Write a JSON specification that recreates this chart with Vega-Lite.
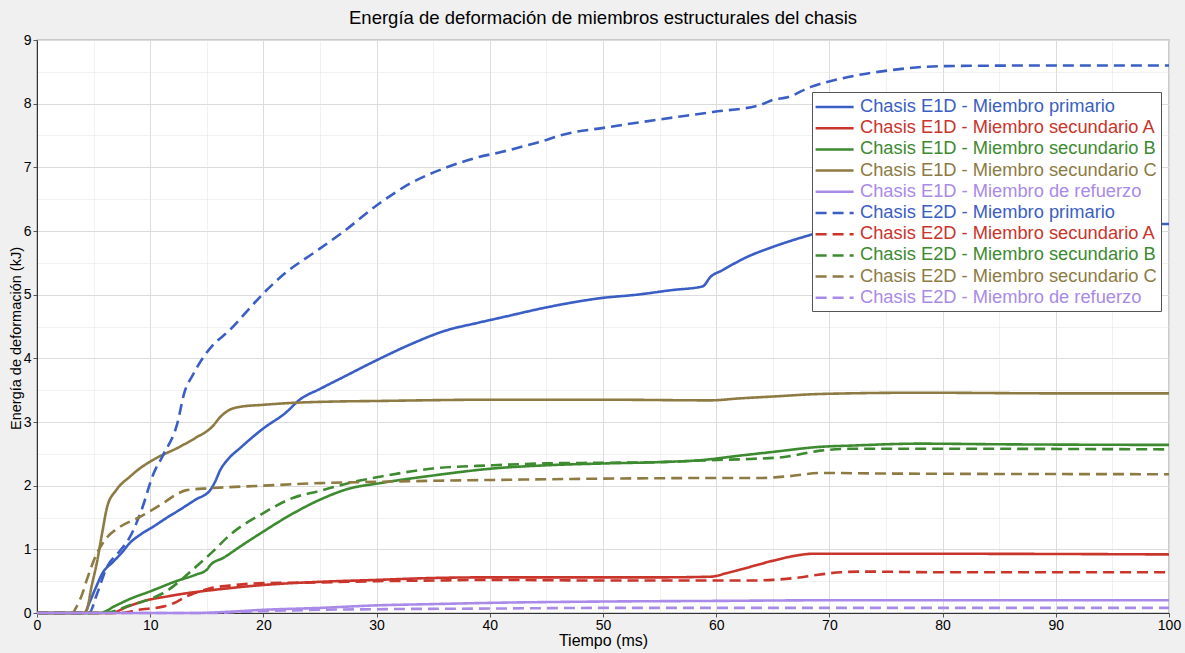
{
  "$schema": "https://vega.github.io/schema/vega-lite/v6.json",
  "width": 1132,
  "height": 573,
  "autosize": {"type": "none"},
  "padding": {"left": 37, "top": 40, "right": 16, "bottom": 40},
  "background": "#f0f0f0",
  "config": {
    "font": "Liberation Sans",
    "view": {"fill": "white", "stroke": "#555555", "strokeWidth": 1.2},
    "axis": {"labelColor": "#000000", "titleColor": "#000000", "labelFontSize": 14, "titleFontSize": 15, "titleFontWeight": "normal", "tickColor": "#555555", "domainColor": "#333333"}
  },
  "title": {"text": "Energía de deformación de miembros estructurales del chasis", "fontSize": 18.5, "fontWeight": "normal", "color": "#000000", "anchor": "middle", "offset": 6},
  "datasets": {
    "d": [
      {"s": "Chasis E1D - Miembro primario", "t": 0, "e": 0},
      {"s": "Chasis E1D - Miembro primario", "t": 4.2, "e": 0},
      {"s": "Chasis E1D - Miembro primario", "t": 4.6, "e": 0.15},
      {"s": "Chasis E1D - Miembro primario", "t": 5.2, "e": 0.4},
      {"s": "Chasis E1D - Miembro primario", "t": 5.8, "e": 0.63},
      {"s": "Chasis E1D - Miembro primario", "t": 6.7, "e": 0.8},
      {"s": "Chasis E1D - Miembro primario", "t": 7.5, "e": 0.95},
      {"s": "Chasis E1D - Miembro primario", "t": 8.2, "e": 1.1},
      {"s": "Chasis E1D - Miembro primario", "t": 9.2, "e": 1.24},
      {"s": "Chasis E1D - Miembro primario", "t": 10.3, "e": 1.36},
      {"s": "Chasis E1D - Miembro primario", "t": 11.5, "e": 1.5},
      {"s": "Chasis E1D - Miembro primario", "t": 12.6, "e": 1.62},
      {"s": "Chasis E1D - Miembro primario", "t": 14, "e": 1.78},
      {"s": "Chasis E1D - Miembro primario", "t": 15.3, "e": 1.93},
      {"s": "Chasis E1D - Miembro primario", "t": 15.7, "e": 2.05},
      {"s": "Chasis E1D - Miembro primario", "t": 16.2, "e": 2.25},
      {"s": "Chasis E1D - Miembro primario", "t": 16.8, "e": 2.4},
      {"s": "Chasis E1D - Miembro primario", "t": 18, "e": 2.6},
      {"s": "Chasis E1D - Miembro primario", "t": 20, "e": 2.9},
      {"s": "Chasis E1D - Miembro primario", "t": 22, "e": 3.15},
      {"s": "Chasis E1D - Miembro primario", "t": 23.2, "e": 3.35},
      {"s": "Chasis E1D - Miembro primario", "t": 25, "e": 3.52},
      {"s": "Chasis E1D - Miembro primario", "t": 27, "e": 3.7},
      {"s": "Chasis E1D - Miembro primario", "t": 30, "e": 3.97},
      {"s": "Chasis E1D - Miembro primario", "t": 33, "e": 4.22},
      {"s": "Chasis E1D - Miembro primario", "t": 36, "e": 4.43},
      {"s": "Chasis E1D - Miembro primario", "t": 39, "e": 4.56},
      {"s": "Chasis E1D - Miembro primario", "t": 41, "e": 4.64},
      {"s": "Chasis E1D - Miembro primario", "t": 45, "e": 4.8},
      {"s": "Chasis E1D - Miembro primario", "t": 50, "e": 4.95},
      {"s": "Chasis E1D - Miembro primario", "t": 53, "e": 5.0},
      {"s": "Chasis E1D - Miembro primario", "t": 56, "e": 5.07},
      {"s": "Chasis E1D - Miembro primario", "t": 58.8, "e": 5.13},
      {"s": "Chasis E1D - Miembro primario", "t": 59.5, "e": 5.28},
      {"s": "Chasis E1D - Miembro primario", "t": 60.5, "e": 5.38},
      {"s": "Chasis E1D - Miembro primario", "t": 62.7, "e": 5.59},
      {"s": "Chasis E1D - Miembro primario", "t": 65, "e": 5.75},
      {"s": "Chasis E1D - Miembro primario", "t": 67.4, "e": 5.89},
      {"s": "Chasis E1D - Miembro primario", "t": 69, "e": 5.97},
      {"s": "Chasis E1D - Miembro primario", "t": 72, "e": 6.03},
      {"s": "Chasis E1D - Miembro primario", "t": 76, "e": 6.07},
      {"s": "Chasis E1D - Miembro primario", "t": 80, "e": 6.09},
      {"s": "Chasis E1D - Miembro primario", "t": 90, "e": 6.1},
      {"s": "Chasis E1D - Miembro primario", "t": 100, "e": 6.11},

      {"s": "Chasis E1D - Miembro secundario A", "t": 0, "e": 0},
      {"s": "Chasis E1D - Miembro secundario A", "t": 6.5, "e": 0},
      {"s": "Chasis E1D - Miembro secundario A", "t": 8, "e": 0.1},
      {"s": "Chasis E1D - Miembro secundario A", "t": 9.7, "e": 0.2},
      {"s": "Chasis E1D - Miembro secundario A", "t": 11.5, "e": 0.26},
      {"s": "Chasis E1D - Miembro secundario A", "t": 13.2, "e": 0.31},
      {"s": "Chasis E1D - Miembro secundario A", "t": 15, "e": 0.35},
      {"s": "Chasis E1D - Miembro secundario A", "t": 17, "e": 0.39},
      {"s": "Chasis E1D - Miembro secundario A", "t": 20, "e": 0.44},
      {"s": "Chasis E1D - Miembro secundario A", "t": 25, "e": 0.49},
      {"s": "Chasis E1D - Miembro secundario A", "t": 30, "e": 0.52},
      {"s": "Chasis E1D - Miembro secundario A", "t": 35, "e": 0.55},
      {"s": "Chasis E1D - Miembro secundario A", "t": 40, "e": 0.56},
      {"s": "Chasis E1D - Miembro secundario A", "t": 50, "e": 0.56},
      {"s": "Chasis E1D - Miembro secundario A", "t": 55, "e": 0.56},
      {"s": "Chasis E1D - Miembro secundario A", "t": 59.5, "e": 0.57},
      {"s": "Chasis E1D - Miembro secundario A", "t": 61, "e": 0.63},
      {"s": "Chasis E1D - Miembro secundario A", "t": 62.5, "e": 0.7},
      {"s": "Chasis E1D - Miembro secundario A", "t": 65, "e": 0.82},
      {"s": "Chasis E1D - Miembro secundario A", "t": 67, "e": 0.9},
      {"s": "Chasis E1D - Miembro secundario A", "t": 68.5, "e": 0.93},
      {"s": "Chasis E1D - Miembro secundario A", "t": 75, "e": 0.93},
      {"s": "Chasis E1D - Miembro secundario A", "t": 80, "e": 0.93},
      {"s": "Chasis E1D - Miembro secundario A", "t": 100, "e": 0.92},

      {"s": "Chasis E1D - Miembro secundario B", "t": 0, "e": 0},
      {"s": "Chasis E1D - Miembro secundario B", "t": 5.5, "e": 0},
      {"s": "Chasis E1D - Miembro secundario B", "t": 7, "e": 0.12},
      {"s": "Chasis E1D - Miembro secundario B", "t": 8.2, "e": 0.22},
      {"s": "Chasis E1D - Miembro secundario B", "t": 10, "e": 0.34},
      {"s": "Chasis E1D - Miembro secundario B", "t": 12.3, "e": 0.5},
      {"s": "Chasis E1D - Miembro secundario B", "t": 14, "e": 0.6},
      {"s": "Chasis E1D - Miembro secundario B", "t": 15, "e": 0.68},
      {"s": "Chasis E1D - Miembro secundario B", "t": 15.3, "e": 0.75},
      {"s": "Chasis E1D - Miembro secundario B", "t": 16.5, "e": 0.87},
      {"s": "Chasis E1D - Miembro secundario B", "t": 18, "e": 1.05},
      {"s": "Chasis E1D - Miembro secundario B", "t": 20, "e": 1.28},
      {"s": "Chasis E1D - Miembro secundario B", "t": 22, "e": 1.5},
      {"s": "Chasis E1D - Miembro secundario B", "t": 25, "e": 1.78},
      {"s": "Chasis E1D - Miembro secundario B", "t": 27.5, "e": 1.95},
      {"s": "Chasis E1D - Miembro secundario B", "t": 30.3, "e": 2.04},
      {"s": "Chasis E1D - Miembro secundario B", "t": 35, "e": 2.16},
      {"s": "Chasis E1D - Miembro secundario B", "t": 40.3, "e": 2.27},
      {"s": "Chasis E1D - Miembro secundario B", "t": 45, "e": 2.32},
      {"s": "Chasis E1D - Miembro secundario B", "t": 50.4, "e": 2.35},
      {"s": "Chasis E1D - Miembro secundario B", "t": 55, "e": 2.37},
      {"s": "Chasis E1D - Miembro secundario B", "t": 58.6, "e": 2.4},
      {"s": "Chasis E1D - Miembro secundario B", "t": 62, "e": 2.47},
      {"s": "Chasis E1D - Miembro secundario B", "t": 65, "e": 2.53},
      {"s": "Chasis E1D - Miembro secundario B", "t": 69.2, "e": 2.61},
      {"s": "Chasis E1D - Miembro secundario B", "t": 72, "e": 2.63},
      {"s": "Chasis E1D - Miembro secundario B", "t": 78, "e": 2.66},
      {"s": "Chasis E1D - Miembro secundario B", "t": 85, "e": 2.65},
      {"s": "Chasis E1D - Miembro secundario B", "t": 100, "e": 2.64},

      {"s": "Chasis E1D - Miembro secundario C", "t": 0, "e": 0},
      {"s": "Chasis E1D - Miembro secundario C", "t": 4.1, "e": 0},
      {"s": "Chasis E1D - Miembro secundario C", "t": 4.4, "e": 0.05},
      {"s": "Chasis E1D - Miembro secundario C", "t": 4.8, "e": 0.4},
      {"s": "Chasis E1D - Miembro secundario C", "t": 5.3, "e": 0.8},
      {"s": "Chasis E1D - Miembro secundario C", "t": 5.8, "e": 1.3},
      {"s": "Chasis E1D - Miembro secundario C", "t": 6.2, "e": 1.67},
      {"s": "Chasis E1D - Miembro secundario C", "t": 7, "e": 1.93},
      {"s": "Chasis E1D - Miembro secundario C", "t": 8.2, "e": 2.14},
      {"s": "Chasis E1D - Miembro secundario C", "t": 9, "e": 2.26},
      {"s": "Chasis E1D - Miembro secundario C", "t": 10.2, "e": 2.4},
      {"s": "Chasis E1D - Miembro secundario C", "t": 12.6, "e": 2.61},
      {"s": "Chasis E1D - Miembro secundario C", "t": 14, "e": 2.75},
      {"s": "Chasis E1D - Miembro secundario C", "t": 15.5, "e": 2.93},
      {"s": "Chasis E1D - Miembro secundario C", "t": 16.2, "e": 3.08},
      {"s": "Chasis E1D - Miembro secundario C", "t": 17, "e": 3.19},
      {"s": "Chasis E1D - Miembro secundario C", "t": 18, "e": 3.24},
      {"s": "Chasis E1D - Miembro secundario C", "t": 20, "e": 3.27},
      {"s": "Chasis E1D - Miembro secundario C", "t": 22.5, "e": 3.3},
      {"s": "Chasis E1D - Miembro secundario C", "t": 25.9, "e": 3.32},
      {"s": "Chasis E1D - Miembro secundario C", "t": 30, "e": 3.33},
      {"s": "Chasis E1D - Miembro secundario C", "t": 40, "e": 3.35},
      {"s": "Chasis E1D - Miembro secundario C", "t": 50, "e": 3.35},
      {"s": "Chasis E1D - Miembro secundario C", "t": 59.5, "e": 3.34},
      {"s": "Chasis E1D - Miembro secundario C", "t": 62, "e": 3.37},
      {"s": "Chasis E1D - Miembro secundario C", "t": 65, "e": 3.4},
      {"s": "Chasis E1D - Miembro secundario C", "t": 69.2, "e": 3.44},
      {"s": "Chasis E1D - Miembro secundario C", "t": 78, "e": 3.46},
      {"s": "Chasis E1D - Miembro secundario C", "t": 90, "e": 3.45},
      {"s": "Chasis E1D - Miembro secundario C", "t": 100, "e": 3.45},

      {"s": "Chasis E1D - Miembro de refuerzo", "t": 0, "e": 0},
      {"s": "Chasis E1D - Miembro de refuerzo", "t": 14, "e": 0},
      {"s": "Chasis E1D - Miembro de refuerzo", "t": 17, "e": 0.02},
      {"s": "Chasis E1D - Miembro de refuerzo", "t": 20, "e": 0.05},
      {"s": "Chasis E1D - Miembro de refuerzo", "t": 25, "e": 0.08},
      {"s": "Chasis E1D - Miembro de refuerzo", "t": 30, "e": 0.12},
      {"s": "Chasis E1D - Miembro de refuerzo", "t": 35, "e": 0.14},
      {"s": "Chasis E1D - Miembro de refuerzo", "t": 40.3, "e": 0.16},
      {"s": "Chasis E1D - Miembro de refuerzo", "t": 50, "e": 0.18},
      {"s": "Chasis E1D - Miembro de refuerzo", "t": 60, "e": 0.19},
      {"s": "Chasis E1D - Miembro de refuerzo", "t": 70, "e": 0.2},
      {"s": "Chasis E1D - Miembro de refuerzo", "t": 100, "e": 0.2},

      {"s": "Chasis E2D - Miembro primario", "t": 0, "e": 0},
      {"s": "Chasis E2D - Miembro primario", "t": 4.6, "e": 0},
      {"s": "Chasis E2D - Miembro primario", "t": 5.3, "e": 0.3},
      {"s": "Chasis E2D - Miembro primario", "t": 6.2, "e": 0.73},
      {"s": "Chasis E2D - Miembro primario", "t": 7.2, "e": 0.95},
      {"s": "Chasis E2D - Miembro primario", "t": 8.2, "e": 1.19},
      {"s": "Chasis E2D - Miembro primario", "t": 9.2, "e": 1.6},
      {"s": "Chasis E2D - Miembro primario", "t": 10.3, "e": 2.19},
      {"s": "Chasis E2D - Miembro primario", "t": 11.2, "e": 2.5},
      {"s": "Chasis E2D - Miembro primario", "t": 12.4, "e": 2.98},
      {"s": "Chasis E2D - Miembro primario", "t": 13, "e": 3.45},
      {"s": "Chasis E2D - Miembro primario", "t": 13.8, "e": 3.75},
      {"s": "Chasis E2D - Miembro primario", "t": 14.7, "e": 4.02},
      {"s": "Chasis E2D - Miembro primario", "t": 15.5, "e": 4.2},
      {"s": "Chasis E2D - Miembro primario", "t": 17, "e": 4.44},
      {"s": "Chasis E2D - Miembro primario", "t": 18.5, "e": 4.73},
      {"s": "Chasis E2D - Miembro primario", "t": 20, "e": 5.02},
      {"s": "Chasis E2D - Miembro primario", "t": 22, "e": 5.35},
      {"s": "Chasis E2D - Miembro primario", "t": 24.4, "e": 5.65},
      {"s": "Chasis E2D - Miembro primario", "t": 27, "e": 5.98},
      {"s": "Chasis E2D - Miembro primario", "t": 30.3, "e": 6.44},
      {"s": "Chasis E2D - Miembro primario", "t": 33, "e": 6.75},
      {"s": "Chasis E2D - Miembro primario", "t": 36.2, "e": 7.0},
      {"s": "Chasis E2D - Miembro primario", "t": 39, "e": 7.16},
      {"s": "Chasis E2D - Miembro primario", "t": 41, "e": 7.24},
      {"s": "Chasis E2D - Miembro primario", "t": 44, "e": 7.38},
      {"s": "Chasis E2D - Miembro primario", "t": 45, "e": 7.43},
      {"s": "Chasis E2D - Miembro primario", "t": 46.2, "e": 7.5},
      {"s": "Chasis E2D - Miembro primario", "t": 50.4, "e": 7.63},
      {"s": "Chasis E2D - Miembro primario", "t": 55.3, "e": 7.76},
      {"s": "Chasis E2D - Miembro primario", "t": 59.7, "e": 7.87},
      {"s": "Chasis E2D - Miembro primario", "t": 63.9, "e": 7.98},
      {"s": "Chasis E2D - Miembro primario", "t": 65, "e": 8.06},
      {"s": "Chasis E2D - Miembro primario", "t": 66.3, "e": 8.1},
      {"s": "Chasis E2D - Miembro primario", "t": 68.3, "e": 8.26},
      {"s": "Chasis E2D - Miembro primario", "t": 71.2, "e": 8.4},
      {"s": "Chasis E2D - Miembro primario", "t": 75.6, "e": 8.53},
      {"s": "Chasis E2D - Miembro primario", "t": 80, "e": 8.59},
      {"s": "Chasis E2D - Miembro primario", "t": 90, "e": 8.6},
      {"s": "Chasis E2D - Miembro primario", "t": 100, "e": 8.6},

      {"s": "Chasis E2D - Miembro secundario A", "t": 0, "e": 0},
      {"s": "Chasis E2D - Miembro secundario A", "t": 7.3, "e": 0},
      {"s": "Chasis E2D - Miembro secundario A", "t": 9, "e": 0.05},
      {"s": "Chasis E2D - Miembro secundario A", "t": 11.1, "e": 0.1},
      {"s": "Chasis E2D - Miembro secundario A", "t": 12.3, "e": 0.17},
      {"s": "Chasis E2D - Miembro secundario A", "t": 13.2, "e": 0.26},
      {"s": "Chasis E2D - Miembro secundario A", "t": 14.2, "e": 0.33},
      {"s": "Chasis E2D - Miembro secundario A", "t": 15.3, "e": 0.39},
      {"s": "Chasis E2D - Miembro secundario A", "t": 17, "e": 0.43},
      {"s": "Chasis E2D - Miembro secundario A", "t": 20, "e": 0.47},
      {"s": "Chasis E2D - Miembro secundario A", "t": 25, "e": 0.48},
      {"s": "Chasis E2D - Miembro secundario A", "t": 30, "e": 0.5},
      {"s": "Chasis E2D - Miembro secundario A", "t": 35, "e": 0.51},
      {"s": "Chasis E2D - Miembro secundario A", "t": 40, "e": 0.52},
      {"s": "Chasis E2D - Miembro secundario A", "t": 50, "e": 0.51},
      {"s": "Chasis E2D - Miembro secundario A", "t": 60, "e": 0.51},
      {"s": "Chasis E2D - Miembro secundario A", "t": 63, "e": 0.51},
      {"s": "Chasis E2D - Miembro secundario A", "t": 65, "e": 0.52},
      {"s": "Chasis E2D - Miembro secundario A", "t": 67, "e": 0.55},
      {"s": "Chasis E2D - Miembro secundario A", "t": 69, "e": 0.6},
      {"s": "Chasis E2D - Miembro secundario A", "t": 71, "e": 0.64},
      {"s": "Chasis E2D - Miembro secundario A", "t": 73, "e": 0.65},
      {"s": "Chasis E2D - Miembro secundario A", "t": 80, "e": 0.64},
      {"s": "Chasis E2D - Miembro secundario A", "t": 100, "e": 0.64},

      {"s": "Chasis E2D - Miembro secundario B", "t": 0, "e": 0},
      {"s": "Chasis E2D - Miembro secundario B", "t": 6, "e": 0},
      {"s": "Chasis E2D - Miembro secundario B", "t": 8.2, "e": 0.12},
      {"s": "Chasis E2D - Miembro secundario B", "t": 10, "e": 0.22},
      {"s": "Chasis E2D - Miembro secundario B", "t": 11.5, "e": 0.35},
      {"s": "Chasis E2D - Miembro secundario B", "t": 12.4, "e": 0.47},
      {"s": "Chasis E2D - Miembro secundario B", "t": 14, "e": 0.72},
      {"s": "Chasis E2D - Miembro secundario B", "t": 15.5, "e": 0.96},
      {"s": "Chasis E2D - Miembro secundario B", "t": 17, "e": 1.22},
      {"s": "Chasis E2D - Miembro secundario B", "t": 20, "e": 1.57},
      {"s": "Chasis E2D - Miembro secundario B", "t": 22.5, "e": 1.8},
      {"s": "Chasis E2D - Miembro secundario B", "t": 25, "e": 1.92},
      {"s": "Chasis E2D - Miembro secundario B", "t": 28, "e": 2.06},
      {"s": "Chasis E2D - Miembro secundario B", "t": 30.3, "e": 2.14},
      {"s": "Chasis E2D - Miembro secundario B", "t": 35, "e": 2.27},
      {"s": "Chasis E2D - Miembro secundario B", "t": 40.3, "e": 2.32},
      {"s": "Chasis E2D - Miembro secundario B", "t": 45, "e": 2.35},
      {"s": "Chasis E2D - Miembro secundario B", "t": 50.4, "e": 2.36},
      {"s": "Chasis E2D - Miembro secundario B", "t": 55, "e": 2.37},
      {"s": "Chasis E2D - Miembro secundario B", "t": 59.5, "e": 2.4},
      {"s": "Chasis E2D - Miembro secundario B", "t": 63, "e": 2.42},
      {"s": "Chasis E2D - Miembro secundario B", "t": 66, "e": 2.45},
      {"s": "Chasis E2D - Miembro secundario B", "t": 69.2, "e": 2.55},
      {"s": "Chasis E2D - Miembro secundario B", "t": 72, "e": 2.58},
      {"s": "Chasis E2D - Miembro secundario B", "t": 80, "e": 2.58},
      {"s": "Chasis E2D - Miembro secundario B", "t": 100, "e": 2.57},

      {"s": "Chasis E2D - Miembro secundario C", "t": 0, "e": 0},
      {"s": "Chasis E2D - Miembro secundario C", "t": 3.1, "e": 0},
      {"s": "Chasis E2D - Miembro secundario C", "t": 3.5, "e": 0.1},
      {"s": "Chasis E2D - Miembro secundario C", "t": 4, "e": 0.3},
      {"s": "Chasis E2D - Miembro secundario C", "t": 4.4, "e": 0.52},
      {"s": "Chasis E2D - Miembro secundario C", "t": 5.3, "e": 0.94},
      {"s": "Chasis E2D - Miembro secundario C", "t": 6.2, "e": 1.19},
      {"s": "Chasis E2D - Miembro secundario C", "t": 7.3, "e": 1.35},
      {"s": "Chasis E2D - Miembro secundario C", "t": 9.1, "e": 1.51},
      {"s": "Chasis E2D - Miembro secundario C", "t": 11.1, "e": 1.72},
      {"s": "Chasis E2D - Miembro secundario C", "t": 12.2, "e": 1.85},
      {"s": "Chasis E2D - Miembro secundario C", "t": 13.2, "e": 1.93},
      {"s": "Chasis E2D - Miembro secundario C", "t": 15.3, "e": 1.96},
      {"s": "Chasis E2D - Miembro secundario C", "t": 20, "e": 2.0},
      {"s": "Chasis E2D - Miembro secundario C", "t": 25, "e": 2.04},
      {"s": "Chasis E2D - Miembro secundario C", "t": 30, "e": 2.06},
      {"s": "Chasis E2D - Miembro secundario C", "t": 40.3, "e": 2.09},
      {"s": "Chasis E2D - Miembro secundario C", "t": 50, "e": 2.11},
      {"s": "Chasis E2D - Miembro secundario C", "t": 59.7, "e": 2.12},
      {"s": "Chasis E2D - Miembro secundario C", "t": 64, "e": 2.12},
      {"s": "Chasis E2D - Miembro secundario C", "t": 66.5, "e": 2.15},
      {"s": "Chasis E2D - Miembro secundario C", "t": 69.2, "e": 2.2},
      {"s": "Chasis E2D - Miembro secundario C", "t": 75, "e": 2.19},
      {"s": "Chasis E2D - Miembro secundario C", "t": 100, "e": 2.18},

      {"s": "Chasis E2D - Miembro de refuerzo", "t": 0, "e": 0},
      {"s": "Chasis E2D - Miembro de refuerzo", "t": 16, "e": 0},
      {"s": "Chasis E2D - Miembro de refuerzo", "t": 18, "e": 0.02},
      {"s": "Chasis E2D - Miembro de refuerzo", "t": 20, "e": 0.03},
      {"s": "Chasis E2D - Miembro de refuerzo", "t": 25, "e": 0.05},
      {"s": "Chasis E2D - Miembro de refuerzo", "t": 30, "e": 0.06},
      {"s": "Chasis E2D - Miembro de refuerzo", "t": 40, "e": 0.07},
      {"s": "Chasis E2D - Miembro de refuerzo", "t": 50, "e": 0.08},
      {"s": "Chasis E2D - Miembro de refuerzo", "t": 100, "e": 0.08}
    ]
  },
  "data": {"name": "d"},
  "layer": [
    {
      "mark": {"type": "point", "opacity": 0},
      "encoding": {
        "x": {"field": "t", "type": "quantitative", "scale": {"domain": [0, 100], "nice": false, "zero": false},
          "axis": {"orient": "bottom", "values": [5, 15, 25, 35, 45, 55, 65, 75, 85, 95], "labels": false, "ticks": false, "domain": false, "title": null, "grid": true, "gridColor": "#e2e2e2", "gridDash": [1, 1], "gridWidth": 1}},
        "y": {"field": "e", "type": "quantitative", "scale": {"domain": [0, 9], "nice": false, "zero": false},
          "axis": {"orient": "left", "values": [0.5, 1.5, 2.5, 3.5, 4.5, 5.5, 6.5, 7.5, 8.5], "labels": false, "ticks": false, "domain": false, "title": null, "grid": true, "gridColor": "#e2e2e2", "gridDash": [1, 1], "gridWidth": 1}}
      }
    },
    {
      "mark": {"type": "line", "strokeWidth": 2.6, "interpolate": "monotone"},
      "encoding": {
        "x": {"field": "t", "type": "quantitative",
          "axis": {"orient": "bottom", "values": [0, 10, 20, 30, 40, 50, 60, 70, 80, 90, 100], "title": "Tiempo (ms)", "titleFontSize": 16, "grid": true, "gridColor": "#dcdcdc", "gridWidth": 1, "tickSize": 4, "labelPadding": 1, "titlePadding": 0, "domain": true, "domainColor": "#333333", "labelFlush": false}},
        "y": {"field": "e", "type": "quantitative",
          "axis": {"orient": "left", "values": [0, 1, 2, 3, 4, 5, 6, 7, 8, 9], "title": "Energía de deformación (kJ)", "titleFontSize": 14.5, "titleY": 298, "grid": true, "gridColor": "#dcdcdc", "gridWidth": 1, "tickSize": 4, "labelPadding": 2, "titlePadding": 0, "domain": true, "domainColor": "#333333"}},
        "color": {"field": "s", "type": "nominal",
          "scale": {
            "domain": ["Chasis E1D - Miembro primario", "Chasis E1D - Miembro secundario A", "Chasis E1D - Miembro secundario B", "Chasis E1D - Miembro secundario C", "Chasis E1D - Miembro de refuerzo", "Chasis E2D - Miembro primario", "Chasis E2D - Miembro secundario A", "Chasis E2D - Miembro secundario B", "Chasis E2D - Miembro secundario C", "Chasis E2D - Miembro de refuerzo"],
            "range": ["#3a5ec4", "#c9342b", "#3d8a30", "#8d7b43", "#a98ae8", "#3a5ec4", "#c9342b", "#3d8a30", "#8d7b43", "#a98ae8"]
          },
          "legend": {
            "title": null, "orient": "none", "legendX": 775, "legendY": 52,
            "symbolType": "M-1.2,0L2.8,0", "symbolSize": 361, "symbolStrokeWidth": 2.5,
            "labelFontSize": 18.3, "labelOffset": 22, "rowPadding": 1.2,
            "labelColor": {"expr": "scale('color', datum.value)"},
            "fillColor": "white", "strokeColor": "#555555", "padding": 4, "labelLimit": 400
          }
        },
        "strokeDash": {"field": "s", "type": "nominal",
          "scale": {
            "domain": ["Chasis E1D - Miembro primario", "Chasis E1D - Miembro secundario A", "Chasis E1D - Miembro secundario B", "Chasis E1D - Miembro secundario C", "Chasis E1D - Miembro de refuerzo", "Chasis E2D - Miembro primario", "Chasis E2D - Miembro secundario A", "Chasis E2D - Miembro secundario B", "Chasis E2D - Miembro secundario C", "Chasis E2D - Miembro de refuerzo"],
            "range": [[1, 0], [1, 0], [1, 0], [1, 0], [1, 0], [11, 6], [11, 6], [11, 6], [11, 6], [11, 6]]
          },
          "legend": {"title": null}
        }
      }
    }
  ],
  "resolve": {"axis": {"x": "independent", "y": "independent"}}
}
